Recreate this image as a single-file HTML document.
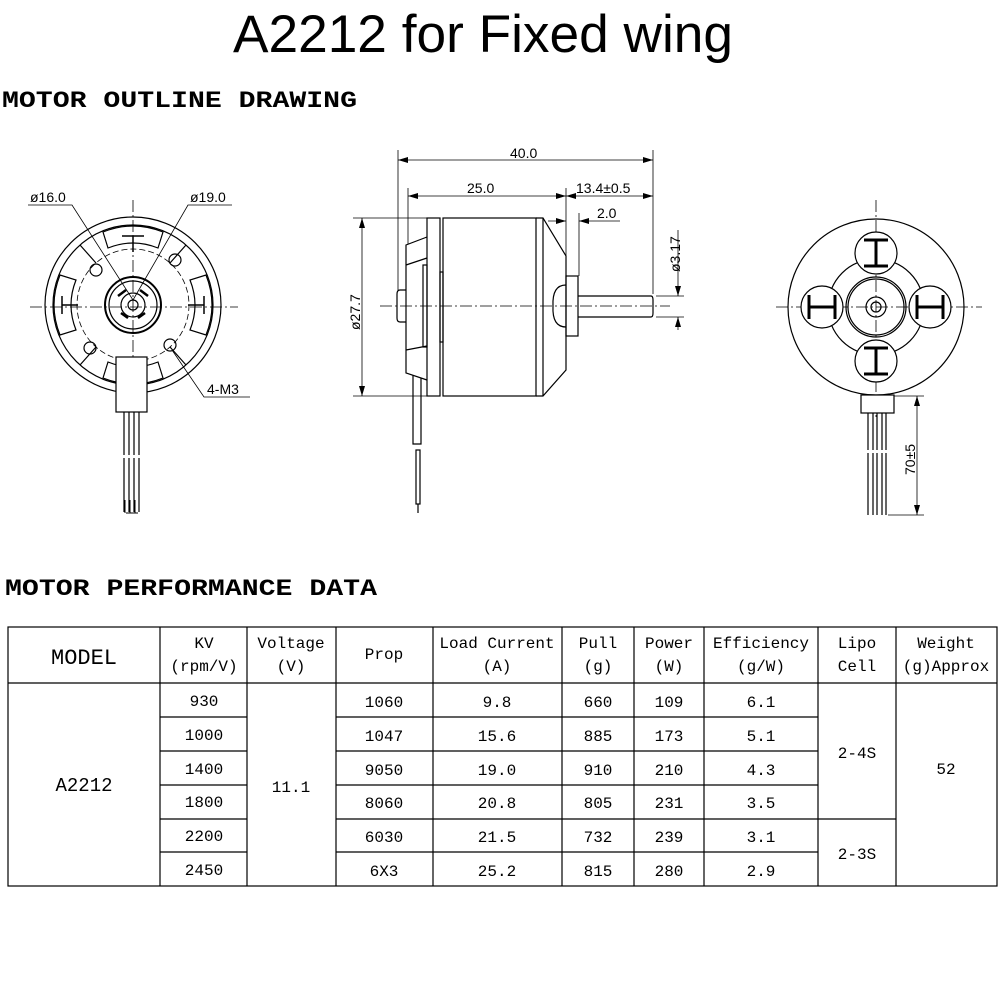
<!DOCTYPE html>
<html><head><meta charset="utf-8"><style>
html,body{margin:0;padding:0;background:#fff;}
svg{display:block;}
.t{font-family:"Liberation Mono",monospace;font-size:16px;fill:#000;}
.d{font-family:"Liberation Sans",sans-serif;font-size:14px;fill:#000;}
</style></head><body>
<svg width="1000" height="1000" viewBox="0 0 1000 1000" xmlns="http://www.w3.org/2000/svg">
<defs>
<marker id="ar" markerWidth="10" markerHeight="6" refX="10" refY="3" orient="auto-start-reverse" markerUnits="userSpaceOnUse"><path d="M0,0 L10,3 L0,6 z" fill="#000"/></marker>
</defs>
<text x="233" y="52" font-family="Liberation Sans,sans-serif" font-size="53" textLength="500" lengthAdjust="spacingAndGlyphs">A2212 for Fixed wing</text>
<text x="2" y="107" font-family="Liberation Mono,monospace" font-weight="bold" font-size="23" textLength="355" lengthAdjust="spacingAndGlyphs">MOTOR OUTLINE DRAWING</text>
<text x="5" y="595" font-family="Liberation Mono,monospace" font-weight="bold" font-size="23" textLength="372" lengthAdjust="spacingAndGlyphs">MOTOR PERFORMANCE DATA</text>

<g fill="none" stroke="#000" stroke-width="1.2">
<!-- LEFT VIEW -->
<line x1="133" y1="200" x2="133" y2="360" stroke-dasharray="12,3,2,3" stroke-width="0.8"/>
<line x1="30" y1="307" x2="238" y2="307" stroke-dasharray="12,3,2,3" stroke-width="0.8"/>
<circle cx="133" cy="305" r="88"/>
<circle cx="133" cy="305" r="80"/>
<circle cx="133" cy="305" r="56" stroke-dasharray="6,3" stroke-width="0.8"/>
<circle cx="133" cy="305" r="28" stroke-width="2"/>
<circle cx="133" cy="305" r="24"/>
<circle cx="133" cy="305" r="12"/>
<circle cx="133" cy="305" r="5"/>
<path d="M118,296 L126,290 M148,296 L140,290 M121,313 L128,318 M145,313 L138,318" stroke-width="2.5"/>
<path d="M103,232 Q133,220 163,232 L158,248 Q133,238 108,248 Z"/>
<path d="M103,378 Q133,390 163,378 L158,362 Q133,372 108,362 Z"/>
<path d="M60,275 Q48,305 60,335 L76,330 Q66,305 76,280 Z"/>
<path d="M206,275 Q218,305 206,335 L190,330 Q200,305 190,280 Z"/>
<path d="M122,236 L144,236 M133,236 L133,252 M62,296 L62,314 M62,305 L78,305 M204,296 L204,314 M204,305 L188,305" stroke-width="1.5"/>
<line x1="96" y1="263" x2="80" y2="245"/><line x1="170" y1="263" x2="186" y2="245"/>
<line x1="96" y1="347" x2="80" y2="365"/><line x1="170" y1="347" x2="186" y2="365"/>
<circle cx="96" cy="270" r="6"/><circle cx="175" cy="260" r="6"/>
<circle cx="90" cy="348" r="6"/><circle cx="170" cy="345" r="6"/>
<polyline points="28,205 72,205 133,300" stroke-width="0.8"/>
<polyline points="232,205 188,205 133,300" stroke-width="0.8"/>
<polyline points="250,397 204,397 172,350" stroke-width="0.8"/>
<rect x="116" y="357" width="31" height="55" fill="#fff"/>
<path d="M124,412 V455 M129,412 V455 M134,412 V455 M139,412 V455 M124,458 V512 M129,458 V512 M134,458 V512 M139,458 V512"/>
<path d="M125,500 V513 M130,500 V513 M135,500 V513 M126,513 H138" stroke-width="1"/>

<!-- MIDDLE VIEW -->
<line x1="380" y1="306" x2="670" y2="306" stroke-dasharray="12,3,2,3" stroke-width="0.8"/>
<rect x="427" y="218" width="13" height="178"/>
<rect x="443" y="218" width="93" height="178"/>
<path d="M536,218 L543,218 L566,256 L566,370 L543,396 L536,396"/>
<line x1="543" y1="218" x2="543" y2="396"/>
<path d="M566,285 Q552,285 553,306 Q552,327 566,327"/>
<rect x="566" y="276" width="12" height="60"/>
<path d="M578,296 L651,296 Q653,296 653,300 L653,313 Q653,317 651,317 L578,317"/>
<path d="M427,237 L406,245 L406,373 L427,380"/>
<path d="M406,265 L427,258 M406,350 L427,346"/>
<rect x="423" y="265" width="4" height="82"/>
<rect x="440" y="272" width="3" height="70"/>
<path d="M406,290 L400,290 Q397,290 397,294 L397,318 Q397,322 400,322 L406,322"/>
<path d="M413,375 V444 H421 V378"/>
<rect x="416" y="450" width="4" height="54"/>
<path d="M418,504 V513"/>
<line x1="398" y1="150" x2="398" y2="290" stroke-width="0.8"/>
<line x1="653" y1="150" x2="653" y2="294" stroke-width="0.8"/>
<line x1="408" y1="188" x2="408" y2="244" stroke-width="0.8"/>
<line x1="566" y1="188" x2="566" y2="256" stroke-width="0.8"/>
<line x1="579" y1="213" x2="579" y2="276" stroke-width="0.8"/>
<line x1="398" y1="160" x2="653" y2="160" stroke-width="0.8" marker-start="url(#ar)" marker-end="url(#ar)"/>
<line x1="408" y1="196" x2="566" y2="196" stroke-width="0.8" marker-start="url(#ar)" marker-end="url(#ar)"/>
<line x1="566" y1="196" x2="653" y2="196" stroke-width="0.8" marker-start="url(#ar)" marker-end="url(#ar)"/>
<line x1="548" y1="221" x2="566" y2="221" stroke-width="0.8" marker-end="url(#ar)"/>
<line x1="620" y1="221" x2="579" y2="221" stroke-width="0.8" marker-end="url(#ar)"/>
<line x1="353" y1="218" x2="427" y2="218" stroke-width="0.8"/>
<line x1="353" y1="396" x2="427" y2="396" stroke-width="0.8"/>
<line x1="362" y1="218" x2="362" y2="396" stroke-width="0.8" marker-start="url(#ar)" marker-end="url(#ar)"/>
<line x1="656" y1="296" x2="684" y2="296" stroke-width="0.8"/>
<line x1="656" y1="317" x2="684" y2="317" stroke-width="0.8"/>
<line x1="678" y1="230" x2="678" y2="296" stroke-width="0.8" marker-end="url(#ar)"/>
<line x1="678" y1="330" x2="678" y2="317" stroke-width="0.8" marker-end="url(#ar)"/>

<!-- RIGHT VIEW -->
<line x1="876" y1="200" x2="876" y2="420" stroke-dasharray="12,3,2,3" stroke-width="0.8"/>
<line x1="776" y1="307" x2="982" y2="307" stroke-dasharray="12,3,2,3" stroke-width="0.8"/>
<circle cx="876" cy="307" r="88"/>
<circle cx="876" cy="307" r="48"/>
<circle cx="876" cy="307" r="30"/>
<circle cx="876" cy="307" r="28"/>
<circle cx="876" cy="307" r="10"/>
<circle cx="876" cy="307" r="5"/>
<g fill="#fff">
<circle cx="876" cy="253" r="21"/><circle cx="876" cy="361" r="21"/>
<circle cx="822" cy="307" r="21"/><circle cx="930" cy="307" r="21"/>
</g>
<path d="M864,240 H888 M876,240 V266 M864,266 H888" stroke-width="3"/>
<path d="M864,348 H888 M876,348 V374 M864,374 H888" stroke-width="3"/>
<path d="M809,295 V319 M809,307 H835 M835,295 V319" stroke-width="3"/>
<path d="M917,295 V319 M917,307 H943 M943,295 V319" stroke-width="3"/>
<rect x="861" y="395" width="33" height="18" fill="#fff"/>
<path d="M868,413 V450 M873,413 V450 M877,413 V450 M882,413 V450 M886,413 V450 M868,453 V515 M873,453 V515 M877,453 V515 M882,453 V515 M886,453 V515"/>
<line x1="894" y1="396" x2="924" y2="396" stroke-width="0.8"/>
<line x1="888" y1="515" x2="924" y2="515" stroke-width="0.8"/>
<line x1="917" y1="396" x2="917" y2="515" stroke-width="0.8" marker-start="url(#ar)" marker-end="url(#ar)"/>
</g>
<text class="d" x="30" y="202">ø16.0</text>
<text class="d" x="190" y="202">ø19.0</text>
<text class="d" x="207" y="394">4-M3</text>
<text class="d" x="510" y="158">40.0</text>
<text class="d" x="467" y="193">25.0</text>
<text class="d" x="576" y="193">13.4±0.5</text>
<text class="d" x="597" y="218">2.0</text>
<text class="d" transform="translate(360,330) rotate(-90)">ø27.7</text>
<text class="d" transform="translate(680,272) rotate(-90)">ø3.17</text>
<text class="d" transform="translate(915,475) rotate(-90)">70±5</text>

<!-- TABLE -->
<g stroke="#000" stroke-width="1.2" fill="none">
<rect x="8" y="627" width="989" height="259"/>
<line x1="8" y1="683" x2="997" y2="683"/>
<line x1="160" y1="627" x2="160" y2="886"/>
<line x1="247" y1="627" x2="247" y2="886"/>
<line x1="336" y1="627" x2="336" y2="886"/>
<line x1="433" y1="627" x2="433" y2="886"/>
<line x1="562" y1="627" x2="562" y2="886"/>
<line x1="634" y1="627" x2="634" y2="886"/>
<line x1="704" y1="627" x2="704" y2="886"/>
<line x1="818" y1="627" x2="818" y2="886"/>
<line x1="896" y1="627" x2="896" y2="886"/>
<path d="M160,717H247 M160,751H247 M160,785H247 M160,819H247 M160,852H247"/>
<path d="M336,717H818 M336,751H818 M336,785H818 M336,819H896 M336,852H818"/>
</g>
<g class="t" text-anchor="middle">
<text x="84" y="664" font-size="22" textLength="66" lengthAdjust="spacingAndGlyphs">MODEL</text>
<text x="204" y="648">KV</text><text x="204" y="671">(rpm/V)</text>
<text x="291" y="648">Voltage</text><text x="291" y="671">(V)</text>
<text x="384" y="659">Prop</text>
<text x="497" y="648">Load Current</text><text x="497" y="671">(A)</text>
<text x="598" y="648">Pull</text><text x="598" y="671">(g)</text>
<text x="669" y="648">Power</text><text x="669" y="671">(W)</text>
<text x="761" y="648">Efficiency</text><text x="761" y="671">(g/W)</text>
<text x="857" y="648">Lipo</text><text x="857" y="671">Cell</text>
<text x="946" y="648">Weight</text><text x="946" y="671">(g)Approx</text>
<text x="84" y="791" font-size="19">A2212</text>
<text x="291" y="792">11.1</text>
<text x="857" y="758">2-4S</text>
<text x="857" y="859">2-3S</text>
<text x="946" y="774">52</text>
<text x="204" y="706">930</text><text x="204" y="740">1000</text><text x="204" y="774">1400</text><text x="204" y="807">1800</text><text x="204" y="841">2200</text><text x="204" y="875">2450</text>
<text x="384" y="707">1060</text><text x="384" y="741">1047</text><text x="384" y="775">9050</text><text x="384" y="808">8060</text><text x="384" y="842">6030</text><text x="384" y="876">6X3</text>
<text x="497" y="707">9.8</text><text x="497" y="741">15.6</text><text x="497" y="775">19.0</text><text x="497" y="808">20.8</text><text x="497" y="842">21.5</text><text x="497" y="876">25.2</text>
<text x="598" y="707">660</text><text x="598" y="741">885</text><text x="598" y="775">910</text><text x="598" y="808">805</text><text x="598" y="842">732</text><text x="598" y="876">815</text>
<text x="669" y="707">109</text><text x="669" y="741">173</text><text x="669" y="775">210</text><text x="669" y="808">231</text><text x="669" y="842">239</text><text x="669" y="876">280</text>
<text x="761" y="707">6.1</text><text x="761" y="741">5.1</text><text x="761" y="775">4.3</text><text x="761" y="808">3.5</text><text x="761" y="842">3.1</text><text x="761" y="876">2.9</text>
</g>
</svg>
</body></html>
